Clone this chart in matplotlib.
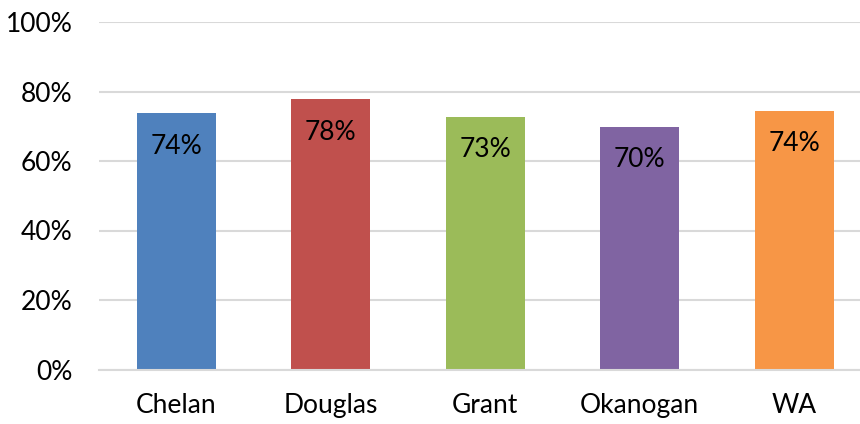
import matplotlib
matplotlib.use("Agg")
import matplotlib.pyplot as plt
from matplotlib.ticker import PercentFormatter

# data
counties = ["Chelan", "Douglas", "Grant", "Okanogan", "WA"]
shares = [73.8, 77.8, 72.7, 69.8, 74.4]
labels = ["74%", "78%", "73%", "70%", "74%"]
colors = ["#4f81bd", "#c0504d", "#9bbb59", "#8064a2", "#f79646"]
yticks = [0, 20, 40, 60, 80, 100]

plt.rcParams["font.family"] = ["Lato", "DejaVu Sans"]

W, H = 860, 424
fig = plt.figure(figsize=(W / 100, H / 100), dpi=100)
left, right = 99 / W, 1.0
bottom, top = (H - 369.5) / H, (H - 22) / H
ax = fig.add_axes([left, bottom, right - left, top - bottom])

x = list(range(len(counties)))
ax.bar(x, shares, width=0.51, color=colors, zorder=2)

# value labels just inside the top of each bar
for xi, val, lab in zip(x, shares, labels):
    ax.annotate(lab, (xi, val), xytext=(0, -33), textcoords="offset pixels",
                ha="center", va="center", fontsize=19, color="black", zorder=3)

ax.set_ylim(0, 100)
ax.set_xlim(-0.5, -0.5 + (W - 99) / 154.5)
ax.set_yticks(yticks)
ax.yaxis.set_major_formatter(PercentFormatter(decimals=0))
ax.set_xticks(x)
ax.set_xticklabels(counties)

ax.grid(axis="y", color="#d9d9d9", linewidth=1.5, zorder=0)
for s in ["top", "right", "left"]:
    ax.spines[s].set_visible(False)
ax.spines["bottom"].set_color("#d9d9d9")
ax.spines["bottom"].set_linewidth(1.5)
ax.tick_params(axis="both", length=0, labelsize=19)
ax.tick_params(axis="y", pad=19)
ax.tick_params(axis="x", pad=17)

fig.savefig("out.png", dpi=100)
